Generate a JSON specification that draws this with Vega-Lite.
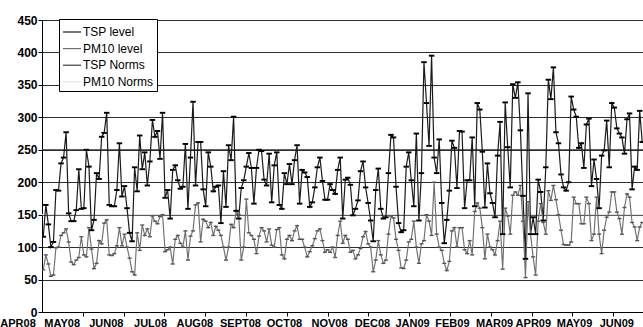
{
"$schema": "https://vega.github.io/schema/vega-lite/v6.json",
"width": 601, "height": 292,
"autosize": {"type": "none"},
"padding": {"left": 42, "top": 20, "right": 0, "bottom": 15},
"background": "white",
"config": {"view": {"stroke": null}, "font": "Liberation Sans"},
"datasets": {
"norms": [{"s": "TSP Norms", "v": 250}, {"s": "PM10 Norms", "v": 150}],
"obs": [
{"i":0,"TSP level":116,"PM10 level":65},{"i":1,"TSP level":165,"PM10 level":88},{"i":2,"TSP level":135,"PM10 level":74},{"i":3,"TSP level":100,"PM10 level":55},{"i":4,"TSP level":108,"PM10 level":57},{"i":5,"TSP level":188,"PM10 level":99},{"i":6,"TSP level":187,"PM10 level":100},{"i":7,"TSP level":229,"PM10 level":118},{"i":8,"TSP level":238,"PM10 level":122},{"i":9,"TSP level":277,"PM10 level":128},
{"i":10,"TSP level":152,"PM10 level":108},{"i":11,"TSP level":140,"PM10 level":77},{"i":12,"TSP level":140,"PM10 level":73},{"i":13,"TSP level":157,"PM10 level":80},{"i":14,"TSP level":220,"PM10 level":84},{"i":15,"TSP level":159,"PM10 level":116},{"i":16,"TSP level":160,"PM10 level":88},{"i":17,"TSP level":250,"PM10 level":85},{"i":18,"TSP level":224,"PM10 level":130},{"i":19,"TSP level":126,"PM10 level":97},
{"i":20,"TSP level":142,"PM10 level":67},{"i":21,"TSP level":214,"PM10 level":75},{"i":22,"TSP level":205,"PM10 level":110},{"i":23,"TSP level":270,"PM10 level":105},{"i":24,"TSP level":276,"PM10 level":137},{"i":25,"TSP level":307,"PM10 level":142},{"i":26,"TSP level":165,"PM10 level":88},{"i":27,"TSP level":163,"PM10 level":87},{"i":28,"TSP level":163,"PM10 level":90},{"i":29,"TSP level":188,"PM10 level":102},
{"i":30,"TSP level":260,"PM10 level":130},{"i":31,"TSP level":178,"PM10 level":102},{"i":32,"TSP level":194,"PM10 level":120},{"i":33,"TSP level":160,"PM10 level":100},{"i":34,"TSP level":122,"PM10 level":83},{"i":35,"TSP level":109,"PM10 level":62},{"i":36,"TSP level":223,"PM10 level":57},{"i":37,"TSP level":186,"PM10 level":122},{"i":38,"TSP level":272,"PM10 level":95},{"i":39,"TSP level":220,"PM10 level":134},
{"i":40,"TSP level":246,"PM10 level":118},{"i":41,"TSP level":195,"PM10 level":128},{"i":42,"TSP level":232,"PM10 level":116},{"i":43,"TSP level":296,"PM10 level":148},{"i":44,"TSP level":270,"PM10 level":140},{"i":45,"TSP level":279,"PM10 level":136},{"i":46,"TSP level":236,"PM10 level":147},{"i":47,"TSP level":307,"PM10 level":150},{"i":48,"TSP level":176,"PM10 level":93},{"i":49,"TSP level":188,"PM10 level":96},
{"i":50,"TSP level":144,"PM10 level":100},{"i":51,"TSP level":219,"PM10 level":74},{"i":52,"TSP level":226,"PM10 level":112},{"i":53,"TSP level":203,"PM10 level":118},{"i":54,"TSP level":190,"PM10 level":106},{"i":55,"TSP level":193,"PM10 level":100},{"i":56,"TSP level":259,"PM10 level":125},{"i":57,"TSP level":159,"PM10 level":80},{"i":58,"TSP level":238,"PM10 level":117},{"i":59,"TSP level":324,"PM10 level":125},
{"i":60,"TSP level":195,"PM10 level":165},{"i":61,"TSP level":262,"PM10 level":168},{"i":62,"TSP level":262,"PM10 level":108},{"i":63,"TSP level":189,"PM10 level":143},{"i":64,"TSP level":163,"PM10 level":140},{"i":65,"TSP level":246,"PM10 level":130},{"i":66,"TSP level":224,"PM10 level":138},{"i":67,"TSP level":186,"PM10 level":118},{"i":68,"TSP level":193,"PM10 level":132},{"i":69,"TSP level":195,"PM10 level":126},
{"i":70,"TSP level":137,"PM10 level":118},{"i":71,"TSP level":217,"PM10 level":100},{"i":72,"TSP level":162,"PM10 level":80},{"i":73,"TSP level":257,"PM10 level":100},{"i":74,"TSP level":234,"PM10 level":135},{"i":75,"TSP level":301,"PM10 level":130},{"i":76,"TSP level":156,"PM10 level":155},{"i":77,"TSP level":144,"PM10 level":150},{"i":78,"TSP level":191,"PM10 level":80},{"i":79,"TSP level":203,"PM10 level":100},
{"i":80,"TSP level":224,"PM10 level":174},{"i":81,"TSP level":245,"PM10 level":122},{"i":82,"TSP level":222,"PM10 level":118},{"i":83,"TSP level":167,"PM10 level":112},{"i":84,"TSP level":222,"PM10 level":90},{"i":85,"TSP level":250,"PM10 level":117},{"i":86,"TSP level":248,"PM10 level":130},{"i":87,"TSP level":204,"PM10 level":125},{"i":88,"TSP level":195,"PM10 level":108},{"i":89,"TSP level":244,"PM10 level":128},
{"i":90,"TSP level":169,"PM10 level":103},{"i":91,"TSP level":226,"PM10 level":100},{"i":92,"TSP level":246,"PM10 level":127},{"i":93,"TSP level":165,"PM10 level":130},{"i":94,"TSP level":159,"PM10 level":88},{"i":95,"TSP level":214,"PM10 level":82},{"i":96,"TSP level":197,"PM10 level":112},{"i":97,"TSP level":228,"PM10 level":118},{"i":98,"TSP level":197,"PM10 level":110},{"i":99,"TSP level":234,"PM10 level":125},
{"i":100,"TSP level":257,"PM10 level":133},{"i":101,"TSP level":167,"PM10 level":112},{"i":102,"TSP level":219,"PM10 level":112},{"i":103,"TSP level":215,"PM10 level":100},{"i":104,"TSP level":208,"PM10 level":85},{"i":105,"TSP level":162,"PM10 level":93},{"i":106,"TSP level":169,"PM10 level":102},{"i":107,"TSP level":192,"PM10 level":113},{"i":108,"TSP level":223,"PM10 level":125},{"i":109,"TSP level":238,"PM10 level":128},
{"i":110,"TSP level":202,"PM10 level":110},{"i":111,"TSP level":173,"PM10 level":92},{"i":112,"TSP level":173,"PM10 level":96},{"i":113,"TSP level":197,"PM10 level":92},{"i":114,"TSP level":188,"PM10 level":100},{"i":115,"TSP level":182,"PM10 level":84},{"i":116,"TSP level":219,"PM10 level":118},{"i":117,"TSP level":238,"PM10 level":140},{"i":118,"TSP level":144,"PM10 level":106},{"i":119,"TSP level":204,"PM10 level":118},
{"i":120,"TSP level":207,"PM10 level":112},{"i":121,"TSP level":196,"PM10 level":92},{"i":122,"TSP level":149,"PM10 level":95},{"i":123,"TSP level":159,"PM10 level":82},{"i":124,"TSP level":172,"PM10 level":88},{"i":125,"TSP level":217,"PM10 level":98},{"i":126,"TSP level":232,"PM10 level":116},{"i":127,"TSP level":192,"PM10 level":124},{"i":128,"TSP level":168,"PM10 level":105},{"i":129,"TSP level":141,"PM10 level":100},
{"i":130,"TSP level":109,"PM10 level":62},{"i":131,"TSP level":188,"PM10 level":80},{"i":132,"TSP level":221,"PM10 level":110},{"i":133,"TSP level":159,"PM10 level":88},{"i":134,"TSP level":144,"PM10 level":75},{"i":135,"TSP level":146,"PM10 level":80},{"i":136,"TSP level":214,"PM10 level":120},{"i":137,"TSP level":273,"PM10 level":148},{"i":138,"TSP level":269,"PM10 level":145},{"i":139,"TSP level":193,"PM10 level":112},
{"i":140,"TSP level":137,"PM10 level":95},{"i":141,"TSP level":123,"PM10 level":68},{"i":142,"TSP level":126,"PM10 level":67},{"i":143,"TSP level":224,"PM10 level":80},{"i":144,"TSP level":246,"PM10 level":108},{"i":145,"TSP level":203,"PM10 level":112},{"i":146,"TSP level":163,"PM10 level":140},{"i":147,"TSP level":275,"PM10 level":100},{"i":148,"TSP level":141,"PM10 level":75},{"i":149,"TSP level":214,"PM10 level":105},
{"i":150,"TSP level":385,"PM10 level":110},{"i":151,"TSP level":322,"PM10 level":150},{"i":152,"TSP level":256,"PM10 level":140},{"i":153,"TSP level":395,"PM10 level":118},{"i":154,"TSP level":238,"PM10 level":200},{"i":155,"TSP level":214,"PM10 level":120},{"i":156,"TSP level":266,"PM10 level":100},{"i":157,"TSP level":168,"PM10 level":95},{"i":158,"TSP level":106,"PM10 level":75},{"i":159,"TSP level":142,"PM10 level":64},
{"i":160,"TSP level":187,"PM10 level":78},{"i":161,"TSP level":264,"PM10 level":125},{"i":162,"TSP level":253,"PM10 level":130},{"i":163,"TSP level":191,"PM10 level":100},{"i":164,"TSP level":279,"PM10 level":130},{"i":165,"TSP level":278,"PM10 level":130},{"i":166,"TSP level":160,"PM10 level":96},{"i":167,"TSP level":203,"PM10 level":90},{"i":168,"TSP level":203,"PM10 level":110},{"i":169,"TSP level":269,"PM10 level":88},
{"i":170,"TSP level":163,"PM10 level":155},{"i":171,"TSP level":322,"PM10 level":168},{"i":172,"TSP level":312,"PM10 level":160},{"i":173,"TSP level":247,"PM10 level":130},{"i":174,"TSP level":161,"PM10 level":82},{"i":175,"TSP level":229,"PM10 level":120},{"i":176,"TSP level":183,"PM10 level":100},{"i":177,"TSP level":168,"PM10 level":96},{"i":178,"TSP level":146,"PM10 level":88},{"i":179,"TSP level":241,"PM10 level":110},
{"i":180,"TSP level":293,"PM10 level":140},{"i":181,"TSP level":120,"PM10 level":66},{"i":182,"TSP level":323,"PM10 level":160},{"i":183,"TSP level":254,"PM10 level":148},{"i":184,"TSP level":192,"PM10 level":120},{"i":185,"TSP level":351,"PM10 level":180},{"i":186,"TSP level":330,"PM10 level":185},{"i":187,"TSP level":354,"PM10 level":180},{"i":188,"TSP level":280,"PM10 level":195},{"i":189,"TSP level":179,"PM10 level":140},
{"i":190,"TSP level":82,"PM10 level":53},{"i":191,"TSP level":337,"PM10 level":170},{"i":192,"TSP level":120,"PM10 level":120},{"i":193,"TSP level":146,"PM10 level":85},{"i":194,"TSP level":120,"PM10 level":57},{"i":195,"TSP level":204,"PM10 level":140},{"i":196,"TSP level":185,"PM10 level":167},{"i":197,"TSP level":141,"PM10 level":138},{"i":198,"TSP level":223,"PM10 level":120},{"i":199,"TSP level":358,"PM10 level":187},
{"i":200,"TSP level":328,"PM10 level":172},{"i":201,"TSP level":377,"PM10 level":195},{"i":202,"TSP level":277,"PM10 level":173},{"i":203,"TSP level":260,"PM10 level":150},{"i":204,"TSP level":212,"PM10 level":126},{"i":205,"TSP level":192,"PM10 level":104},{"i":206,"TSP level":187,"PM10 level":103},{"i":207,"TSP level":200,"PM10 level":103},{"i":208,"TSP level":332,"PM10 level":108},{"i":209,"TSP level":312,"PM10 level":177},
{"i":210,"TSP level":301,"PM10 level":167},{"i":211,"TSP level":253,"PM10 level":167},{"i":212,"TSP level":260,"PM10 level":136},{"i":213,"TSP level":222,"PM10 level":136},{"i":214,"TSP level":289,"PM10 level":177},{"i":215,"TSP level":298,"PM10 level":167},{"i":216,"TSP level":194,"PM10 level":110},{"i":217,"TSP level":235,"PM10 level":120},{"i":218,"TSP level":205,"PM10 level":177},{"i":219,"TSP level":160,"PM10 level":120},
{"i":220,"TSP level":241,"PM10 level":90},{"i":221,"TSP level":249,"PM10 level":126},{"i":222,"TSP level":295,"PM10 level":146},{"i":223,"TSP level":223,"PM10 level":154},{"i":224,"TSP level":322,"PM10 level":185},{"i":225,"TSP level":315,"PM10 level":185},{"i":226,"TSP level":283,"PM10 level":154},{"i":227,"TSP level":275,"PM10 level":144},{"i":228,"TSP level":269,"PM10 level":120},{"i":229,"TSP level":244,"PM10 level":161},
{"i":230,"TSP level":297,"PM10 level":182},{"i":231,"TSP level":306,"PM10 level":177},{"i":232,"TSP level":189,"PM10 level":138},{"i":233,"TSP level":224,"PM10 level":131},{"i":234,"TSP level":219,"PM10 level":110},{"i":235,"TSP level":310,"PM10 level":131},{"i":236,"TSP level":262,"PM10 level":138}
]
},
"layer": [
 {"data": {"name": "norms"},
  "mark": {"type": "rule"},
  "encoding": {
   "y": {"field": "v", "type": "quantitative", "scale": {"domain": [0, 450], "nice": false, "zero": true},
     "axis": {"values": [0,50,100,150,200,250,300,350,400,450], "tickCount": 50, "grid": true, "gridColor": "#2e2e2e", "gridWidth": 1, "gridOpacity": 1, "domainColor": "black", "domainWidth": 1, "tickColor": "black", "tickSize": 4, "labelFont": "Liberation Sans", "labelFontWeight": "bold", "labelFontSize": 12, "labelColor": "black", "labelPadding": 1, "labelOverlap": false, "labelFlush": false, "title": null}},
   "color": {"field": "s", "type": "nominal", "scale": {"domain": ["TSP level","PM10 level","TSP Norms","PM10 Norms"], "range": ["#1a1a1a","#707070","#333333","#e3e3e3"]},
     "legend": {"title": null, "orient": "none", "legendX": 17, "legendY": -1, "symbolType": "stroke", "symbolSize": 324, "labelFontSize": 12, "labelFont": "Liberation Sans", "labelColor": "black", "strokeColor": "black", "fillColor": "white", "padding": 3, "rowPadding": 0.6, "labelOffset": 1}},
   "strokeWidth": {"field": "s", "type": "nominal", "scale": {"domain": ["TSP level","PM10 level","TSP Norms","PM10 Norms"], "range": [1.2, 1.1, 2.5, 3.5]},
     "legend": {"title": null, "orient": "none", "legendX": 17, "legendY": -1, "symbolType": "stroke", "symbolSize": 324, "labelFontSize": 12, "labelFont": "Liberation Sans", "labelColor": "black", "strokeColor": "black", "fillColor": "white", "padding": 3, "rowPadding": 0.6, "labelOffset": 1}}
  }
 },
 {"data": {"name": "obs"},
  "transform": [{"fold": ["TSP level", "PM10 level"], "as": ["s", "v"]}],
  "mark": {"type": "line", "clip": true},
  "encoding": {
   "x": {"field": "i", "type": "quantitative", "scale": {"domain": [-0.5, 236.3], "nice": false, "zero": false},
     "axis": {
       "values": [-0.49,7.25,24.66,42.08,59.5,77.5,94.84,112.57,129.5,145.3,161,177.6,192.9,209.1,225.8,15.56,31.64,47.72,63.79,79.87,95.94,112.02,128.1,144.17,160.25,176.32,192.4,208.48,224.55],
       "tickCount": 100,
       "labelExpr": "indexof([-0.49,7.25,24.66,42.08,59.5,77.5,94.84,112.57,129.5,145.3,161,177.6,192.9,209.1,225.8], datum.value) < 0 ? '' : ['APR08','MAY08','JUN08','JUL08','AUG08','SEPT08','OCT08','NOV08','DEC08','JAN09','FEB09','MAR09','APR09','MAY09','JUN09'][indexof([-0.49,7.25,24.66,42.08,59.5,77.5,94.84,112.57,129.5,145.3,161,177.6,192.9,209.1,225.8], datum.value)]",
       "tickColor": {"condition": {"test": "indexof([15.56,31.64,47.72,63.79,79.87,95.94,112.02,128.1,144.17,160.25,176.32,192.4,208.48,224.55], datum.value) >= 0", "value": "black"}, "value": "transparent"},
       "labelOffset": {"condition": {"test": "datum.value < 0", "value": -24.5}, "value": 0},
       "grid": false, "domainColor": "black", "domainWidth": 1, "tickSize": 4, "labelFont": "Liberation Sans", "labelFontWeight": "bold", "labelFontSize": 11, "labelColor": "black", "labelPadding": 1, "title": null, "labelFlush": false, "labelOverlap": false, "labelBound": false
     }},
   "y": {"field": "v", "type": "quantitative",
     "axis": {"values": [0,50,100,150,200,250,300,350,400,450], "tickCount": 50, "grid": true, "gridColor": "#2e2e2e", "gridWidth": 1, "gridOpacity": 1, "domainColor": "black", "domainWidth": 1, "tickColor": "black", "tickSize": 4, "labelFont": "Liberation Sans", "labelFontWeight": "bold", "labelFontSize": 12, "labelColor": "black", "labelPadding": 1, "labelOverlap": false, "labelFlush": false, "title": null}},
   "color": {"field": "s", "type": "nominal"},
   "strokeWidth": {"field": "s", "type": "nominal"}
  }
 },
 {"data": {"name": "obs"},
  "mark": {"type": "point", "shape": "M-1,-0.35L1,-0.35L1,0.35L-1,0.35Z", "filled": true, "opacity": 1, "size": 16, "color": "#555555", "strokeWidth": 0, "clip": true},
  "encoding": {
   "x": {"field": "i", "type": "quantitative"},
   "y": {"field": "PM10 level", "type": "quantitative"}
  }
 },
 {"data": {"name": "obs"},
  "mark": {"type": "point", "shape": "M-1,-0.35L1,-0.35L1,0.35L-1,0.35Z", "filled": true, "opacity": 1, "size": 30, "color": "#000000", "strokeWidth": 0, "clip": true},
  "encoding": {
   "x": {"field": "i", "type": "quantitative"},
   "y": {"field": "TSP level", "type": "quantitative"}
  }
 }
]
}
